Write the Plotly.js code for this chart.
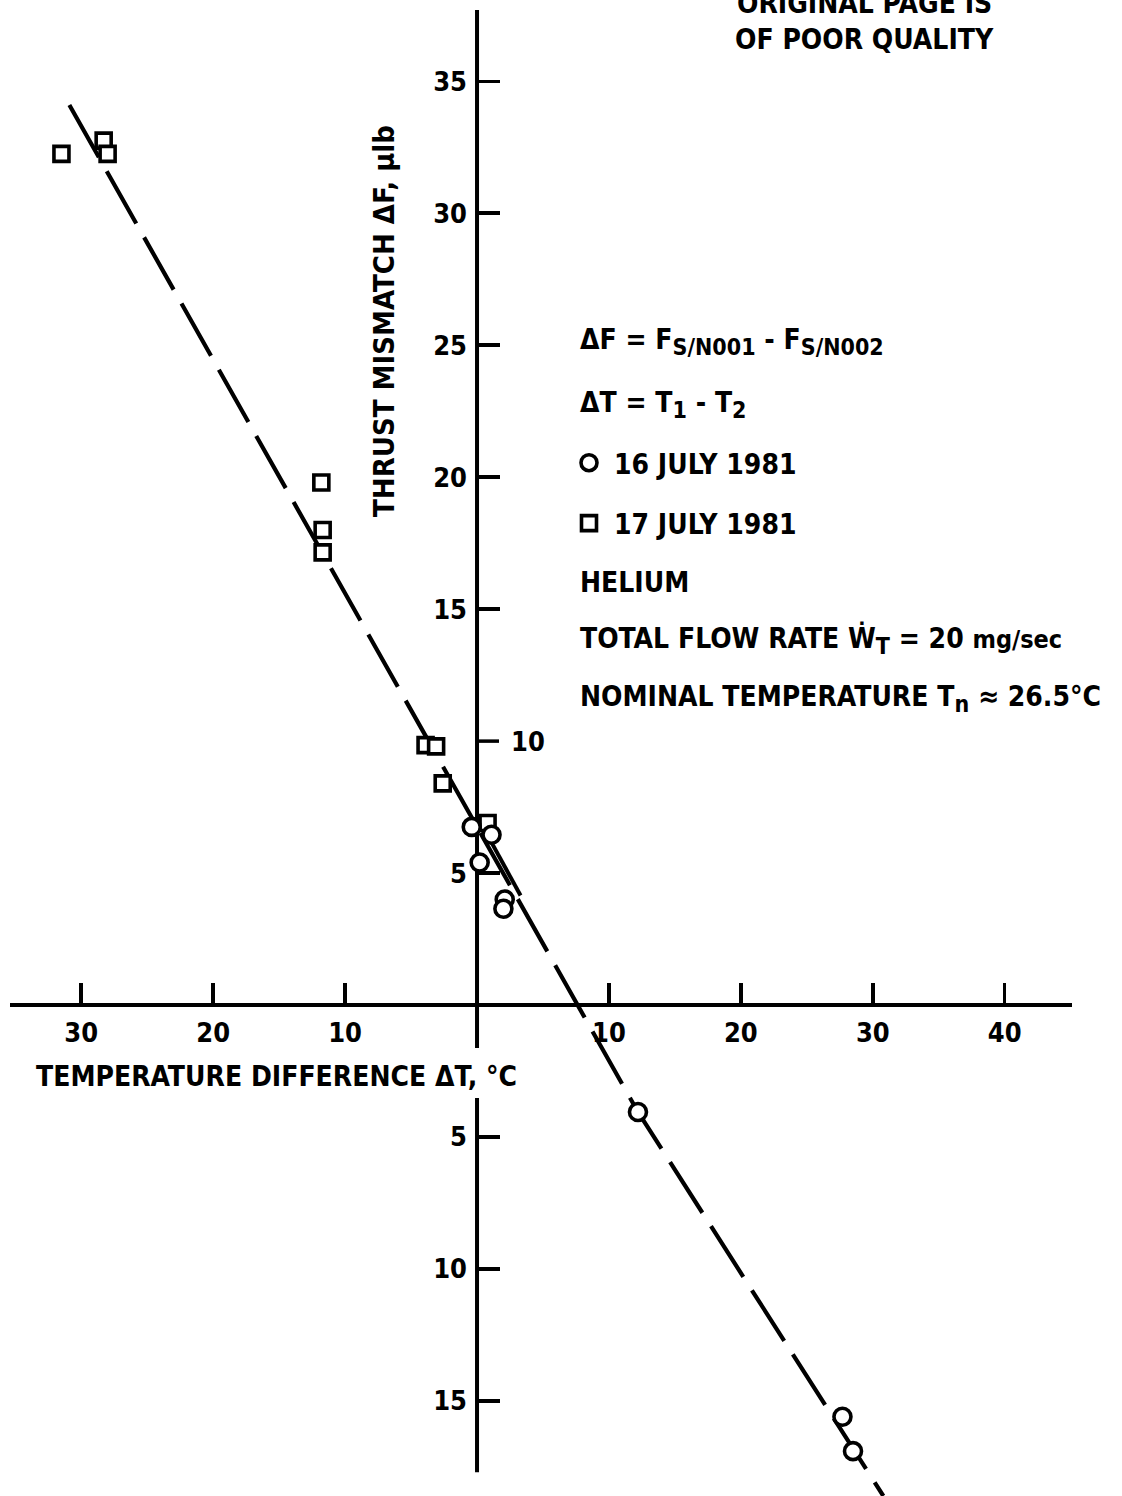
<!DOCTYPE html>
<html>
<head>
<meta charset="utf-8">
<script src="https://cdn.plot.ly/plotly-3.0.1.min.js"></script>
<style>
  html, body { margin: 0; padding: 0; background: white; }
  #graph { width: 1122px; height: 1496px; }
</style>
</head>
<body>
<div id="graph"></div>
<script>
/** données */
// 16 juillet 1981 : cercles
var circlesX = [-0.4, 1.1, 0.2, 2.1, 2.0, 12.2, 27.7, 28.5];
var circlesY = [6.75, 6.45, 5.4, 4.0, 3.65, -4.05, -15.6, -16.9];
// 17 juillet 1981 : carrés
var squaresX = [-31.5, -28.3, -28.0, -11.8, -11.7, -11.7, -3.9, -3.1, -2.6, 0.8];
var squaresY = [32.25, 32.75, 32.25, 19.8, 18.0, 17.15, 9.85, 9.8, 8.4, 6.9];
// droite tracée à la main, en tirets
var fitX = [-30.9, 12.2, 30.8];
var fitY = [34.1, -4.05, -18.6];
// petit trait doublé près de l'origine
var strokeX = [1.0, 3.3];
var strokeY = [6.25, 4.15];

/** graduations (les valeurs négatives sont écrites sans signe) */
var xTicks = [-30, -20, -10, 10, 20, 30, 40];
var xTickText = ['30', '20', '10', '10', '20', '30', '40'];
var yTicks = [35, 30, 25, 20, 15, 5, -5, -10, -15];
var yTickText = ['35', '30', '25', '20', '15', '5', '5', '10', '15'];
var yTickRight = 10; // seule graduation portée à droite de l'axe

var xRange = [-35.4, 45.1];
var yRange = [-18.6, 37.7];
// l'axe vertical est interrompu sous l'axe horizontal, pour laisser passer son titre
var yAxisEnds = [37.7, -17.7];
var yAxisGap = [-1.63, -3.52];

/** mise en page en pixels */
var W = 1122, H = 1496;
var M = { l: 10, r: 50, t: 10, b: 0 };
const px = x => (x - M.l) / (W - M.l - M.r);
const py = y => 1 - (y - M.t) / (H - M.t - M.b);

var FONT = "'Liberation Sans Narrow', 'DejaVu Sans Condensed', 'Liberation Sans', sans-serif";
var font = (size, weight) => ({ family: FONT, size: size, color: 'black', weight: weight || 'bold' });
var NB = '\u00a0';

var data = [
    {
        x: fitX, y: fitY, mode: 'lines', showlegend: false, cliponaxis: false,
        line: { color: 'black', width: 4.2, dash: '60px,16px' },
    },
    {
        x: strokeX, y: strokeY, mode: 'lines', showlegend: false, cliponaxis: false,
        line: { color: 'black', width: 4 },
    },
    {
        x: squaresX, y: squaresY, mode: 'markers', name: '17 JULY 1981',
        legendgroup: 'b', legendrank: 2, cliponaxis: false,
        marker: { symbol: 'square', size: 15, color: 'white', line: { color: 'black', width: 3.6 } },
    },
    {
        x: circlesX, y: circlesY, mode: 'markers', name: '16 JULY 1981',
        legendgroup: 'a', legendrank: 1, cliponaxis: false,
        marker: { symbol: 'circle', size: 17, color: 'white', line: { color: 'black', width: 3.6 } },
    },
];

const axisLine = (y0, y1) => ({
    type: 'line', xref: 'x', yref: 'y', x0: 0, x1: 0, y0: y0, y1: y1,
    line: { color: 'black', width: 4 }, layer: 'below',
});
const sub = t => `<sub><span style="font-size:23px">${t}</span></sub>`;
const minus = `${NB}-${NB}`;

/** axes croisés à l'origine */
var layout = {
    width: W, height: H,
    margin: { l: M.l, r: M.r, t: M.t, b: M.b, pad: 0 },
    paper_bgcolor: 'white', plot_bgcolor: 'white',
    font: font(27),
    xaxis: {
        range: xRange, anchor: 'free',
        position: (0 - yRange[0]) / (yRange[1] - yRange[0]),
        showline: true, linecolor: 'black', linewidth: 4,
        showgrid: false, zeroline: false,
        tickmode: 'array', tickvals: xTicks, ticktext: xTickText,
        ticks: 'inside', ticklen: 20, tickwidth: 3.5, tickcolor: 'black',
        ticklabelstandoff: 3, tickfont: font(27),
    },
    yaxis: {
        range: yRange, anchor: 'free',
        position: (0 - xRange[0]) / (xRange[1] - xRange[0]),
        showline: false,
        showgrid: false, zeroline: false,
        tickmode: 'array', tickvals: yTicks, ticktext: yTickText,
        ticks: 'inside', ticklen: 22, tickwidth: 3.5, tickcolor: 'black',
        ticklabelstandoff: 10, tickfont: font(27),
    },
    showlegend: true,
    legend: {
        x: px(564), y: py(438), xanchor: 'left', yanchor: 'top',
        bgcolor: 'rgba(0,0,0,0)', font: font(28),
        tracegroupgap: 21, itemsizing: 'trace', itemwidth: 40,
    },
    shapes: [
        axisLine(yAxisEnds[0], yAxisGap[0]),
        axisLine(yAxisGap[1], yAxisEnds[1]),
        { type: 'line', xref: 'x', yref: 'y', x0: 0, x1: 22 / 13.19, y0: yTickRight, y1: yTickRight,
          line: { color: 'black', width: 3.5 } },
    ],
    annotations: [
        { x: 0, y: yTickRight, xref: 'x', yref: 'y', xanchor: 'left', xshift: 32,
          text: String(yTickRight), showarrow: false, font: font(27) },
        // titre de l'axe horizontal
        { x: px(34), y: py(1076), xref: 'paper', yref: 'paper', xanchor: 'left', yanchor: 'middle',
          text: 'TEMPERATURE DIFFERENCE \u0394T, \u00b0C', showarrow: false, font: font(28) },
        // titre de l'axe vertical
        { x: px(384), y: py(321), xref: 'paper', yref: 'paper', xanchor: 'center', yanchor: 'middle',
          textangle: -90, text: 'THRUST MISMATCH \u0394F, \u03bclb', showarrow: false, font: font(29) },
        // notes à droite
        { x: px(578), y: py(342), xref: 'paper', yref: 'paper', xanchor: 'left', yanchor: 'middle',
          text: `\u0394F = F${sub('S/N001')}${minus}F${sub('S/N002')}`, showarrow: false, font: font(28) },
        { x: px(578), y: py(404), xref: 'paper', yref: 'paper', xanchor: 'left', yanchor: 'middle',
          text: `\u0394T = T${sub('1')}${minus}T${sub('2')}`, showarrow: false, font: font(28) },
        { x: px(578), y: py(582), xref: 'paper', yref: 'paper', xanchor: 'left', yanchor: 'middle',
          text: 'HELIUM', showarrow: false, font: font(28) },
        { x: px(578), y: py(640), xref: 'paper', yref: 'paper', xanchor: 'left', yanchor: 'middle',
          text: `TOTAL FLOW RATE \u1e86${sub('T')} = 20 <span style="font-size:25px">mg/sec</span>`,
          showarrow: false, font: font(28) },
        { x: px(578), y: py(699), xref: 'paper', yref: 'paper', xanchor: 'left', yanchor: 'middle',
          text: `NOMINAL TEMPERATURE T${sub('n')} \u2248 26.5\u00b0C`, showarrow: false, font: font(28) },
        // mention en haut à droite
        { x: px(864), y: py(3), xref: 'paper', yref: 'paper', xanchor: 'center', yanchor: 'middle',
          text: 'ORIGINAL PAGE IS', showarrow: false, font: font(28, 900) },
        { x: px(864), y: py(39), xref: 'paper', yref: 'paper', xanchor: 'center', yanchor: 'middle',
          text: 'OF POOR QUALITY', showarrow: false, font: font(28, 900) },
    ],
};

Plotly.newPlot('graph', data, layout, { staticPlot: true });
</script>
</body>
</html>
